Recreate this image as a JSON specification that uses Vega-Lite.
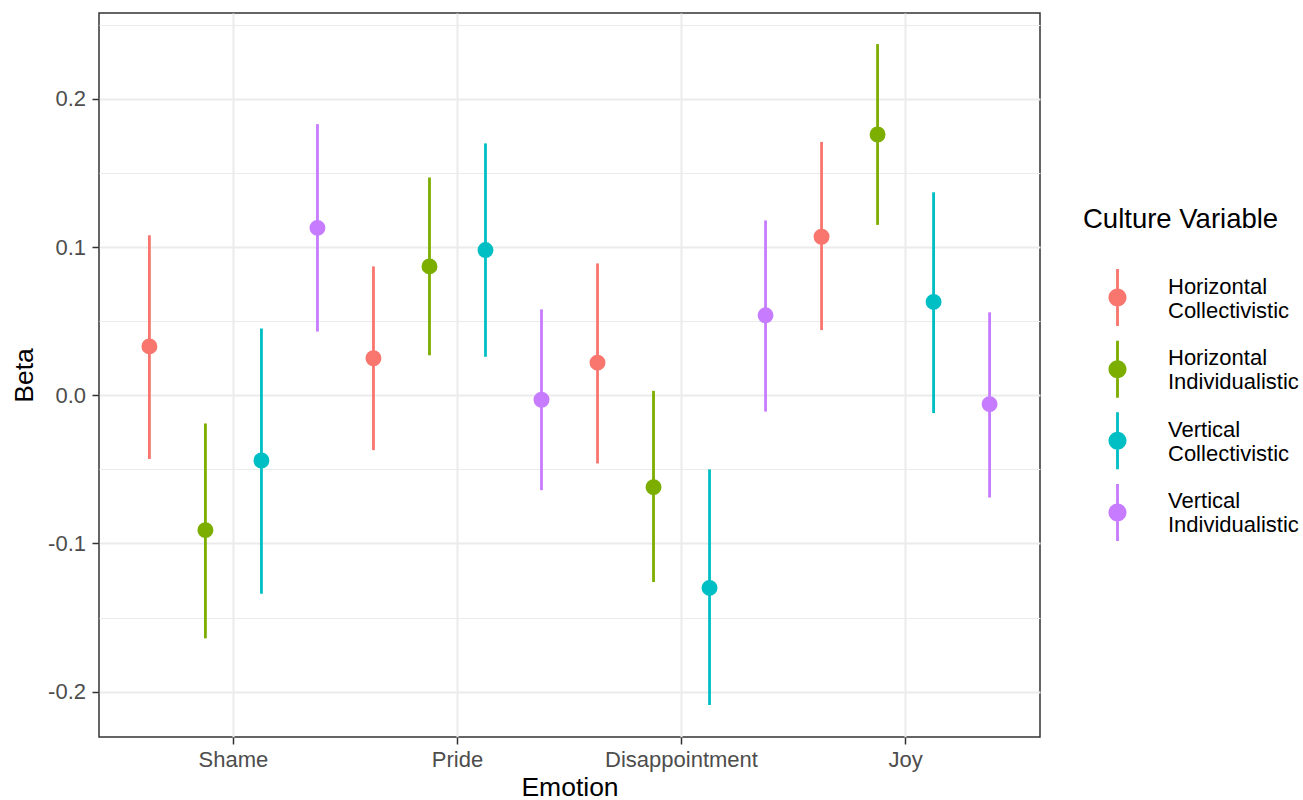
{
  "$schema": "https://vega.github.io/schema/vega-lite/v6.json",
  "width": 941,
  "height": 724,
  "autosize": {"type": "none"},
  "padding": {"left": 99, "top": 13, "right": 263, "bottom": 63},
  "background": "white",
  "config": {
    "font": "Liberation Sans",
    "view": {"stroke": "#333333", "strokeWidth": 1.5}
  },
  "data": {
    "values": [
      {"Emotion": "Shame", "Culture": "Horizontal Collectivistic", "beta": 0.033, "lower": -0.043, "upper": 0.108},
      {"Emotion": "Shame", "Culture": "Horizontal Individualistic", "beta": -0.091, "lower": -0.164, "upper": -0.019},
      {"Emotion": "Shame", "Culture": "Vertical Collectivistic", "beta": -0.044, "lower": -0.134, "upper": 0.045},
      {"Emotion": "Shame", "Culture": "Vertical Individualistic", "beta": 0.113, "lower": 0.043, "upper": 0.183},
      {"Emotion": "Pride", "Culture": "Horizontal Collectivistic", "beta": 0.025, "lower": -0.037, "upper": 0.087},
      {"Emotion": "Pride", "Culture": "Horizontal Individualistic", "beta": 0.087, "lower": 0.027, "upper": 0.147},
      {"Emotion": "Pride", "Culture": "Vertical Collectivistic", "beta": 0.098, "lower": 0.026, "upper": 0.170},
      {"Emotion": "Pride", "Culture": "Vertical Individualistic", "beta": -0.003, "lower": -0.064, "upper": 0.058},
      {"Emotion": "Disappointment", "Culture": "Horizontal Collectivistic", "beta": 0.022, "lower": -0.046, "upper": 0.089},
      {"Emotion": "Disappointment", "Culture": "Horizontal Individualistic", "beta": -0.062, "lower": -0.126, "upper": 0.003},
      {"Emotion": "Disappointment", "Culture": "Vertical Collectivistic", "beta": -0.130, "lower": -0.209, "upper": -0.050},
      {"Emotion": "Disappointment", "Culture": "Vertical Individualistic", "beta": 0.054, "lower": -0.011, "upper": 0.118},
      {"Emotion": "Joy", "Culture": "Horizontal Collectivistic", "beta": 0.107, "lower": 0.044, "upper": 0.171},
      {"Emotion": "Joy", "Culture": "Horizontal Individualistic", "beta": 0.176, "lower": 0.115, "upper": 0.237},
      {"Emotion": "Joy", "Culture": "Vertical Collectivistic", "beta": 0.063, "lower": -0.012, "upper": 0.137},
      {"Emotion": "Joy", "Culture": "Vertical Individualistic", "beta": -0.006, "lower": -0.069, "upper": 0.056}
    ]
  },
  "encoding": {
    "x": {
      "field": "Emotion",
      "type": "nominal",
      "sort": ["Shame", "Pride", "Disappointment", "Joy"],
      "scale": {"paddingInner": 0, "paddingOuter": 0.1},
      "axis": {
        "title": "Emotion",
        "labelAngle": 0,
        "bandPosition": 0.5,
        "domain": false,
        "grid": true,
        "gridColor": "#EBEBEB",
        "gridWidth": 2,
        "tickColor": "#333333",
        "tickWidth": 1.5,
        "tickSize": 7,
        "labelFontSize": 22,
        "labelColor": "#4D4D4D",
        "labelPadding": 5,
        "titleFontSize": 26.5,
        "titleFontWeight": "normal",
        "titleColor": "black",
        "titlePadding": 4.5
      }
    },
    "xOffset": {
      "field": "Culture",
      "type": "nominal",
      "sort": ["Horizontal Collectivistic", "Horizontal Individualistic", "Vertical Collectivistic", "Vertical Individualistic"],
      "scale": {"paddingInner": 0, "paddingOuter": 0}
    },
    "color": {
      "field": "Culture",
      "type": "nominal",
      "scale": {
        "domain": ["Horizontal Collectivistic", "Horizontal Individualistic", "Vertical Collectivistic", "Vertical Individualistic"],
        "range": ["#F8766D", "#7CAE00", "#00BFC4", "#C77CFF"]
      },
      "legend": {
        "orient": "none",
        "legendX": 984,
        "legendY": 192.6,
        "padding": 0,
        "title": "Culture Variable",
        "titleFontSize": 27.5,
        "titleFontWeight": "normal",
        "titleColor": "black",
        "titleLimit": 400,
        "titlePadding": 36,
        "labelFontSize": 22,
        "labelColor": "black",
        "labelLimit": 400,
        "labelExpr": "split(datum.label, ' ')",
        "symbolType": "M-0.05,-1L0.05,-1L0.05,1L-0.05,1Z M-0.316,0A0.316,0.316 0 1,1 0.316,0A0.316,0.316 0 1,1 -0.316,0Z",
        "symbolSize": 3249,
        "symbolOffset": 6,
        "symbolStrokeWidth": 0,
        "symbolOpacity": 1,
        "labelOffset": 22,
        "rowPadding": 14.6,
        "encode": {
          "symbols": {"update": {"fill": {"scale": "color", "field": "value"}, "stroke": {"value": "transparent"}, "opacity": {"value": 1}}},
          "labels": {"update": {"lineHeight": {"value": 24}, "dy": {"value": -11}}}
        }
      }
    }
  },
  "layer": [
    {
      "mark": {"type": "rule", "strokeWidth": 2.8},
      "encoding": {
        "y": {
          "field": "lower",
          "type": "quantitative",
          "title": "Beta",
          "scale": {"domain": [-0.2306, 0.258], "nice": false, "zero": false},
          "axis": {
            "values": [-0.2, -0.15, -0.1, -0.05, 0, 0.05, 0.1, 0.15, 0.2, 0.25],
            "domain": false,
            "grid": true,
            "gridColor": "#EBEBEB",
            "gridWidth": {"condition": {"test": "abs(round(datum.value*20)) % 2 == 1", "value": 1}, "value": 2},
            "tickOpacity": {"condition": {"test": "abs(round(datum.value*20)) % 2 == 1", "value": 0}, "value": 1},
            "labelExpr": "abs(round(datum.value*20)) % 2 == 1 ? '' : (datum.value < -0.001 ? '-' + format(-datum.value, '.1f') : format(abs(datum.value), '.1f'))",
            "labelOverlap": false,
            "labelFlush": false,
            "tickColor": "#333333",
            "tickWidth": 1.5,
            "tickSize": 7,
            "labelFontSize": 22,
            "labelColor": "#4D4D4D",
            "labelPadding": 6.5,
            "titleFontSize": 26.5,
            "titleFontWeight": "normal",
            "titleColor": "black",
            "titlePadding": 9
          }
        },
        "y2": {"field": "upper"}
      }
    },
    {
      "mark": {"type": "point", "filled": true, "size": 254, "opacity": 1, "strokeWidth": 0},
      "encoding": {
        "y": {"field": "beta", "type": "quantitative", "title": "Beta"}
      }
    }
  ]
}
